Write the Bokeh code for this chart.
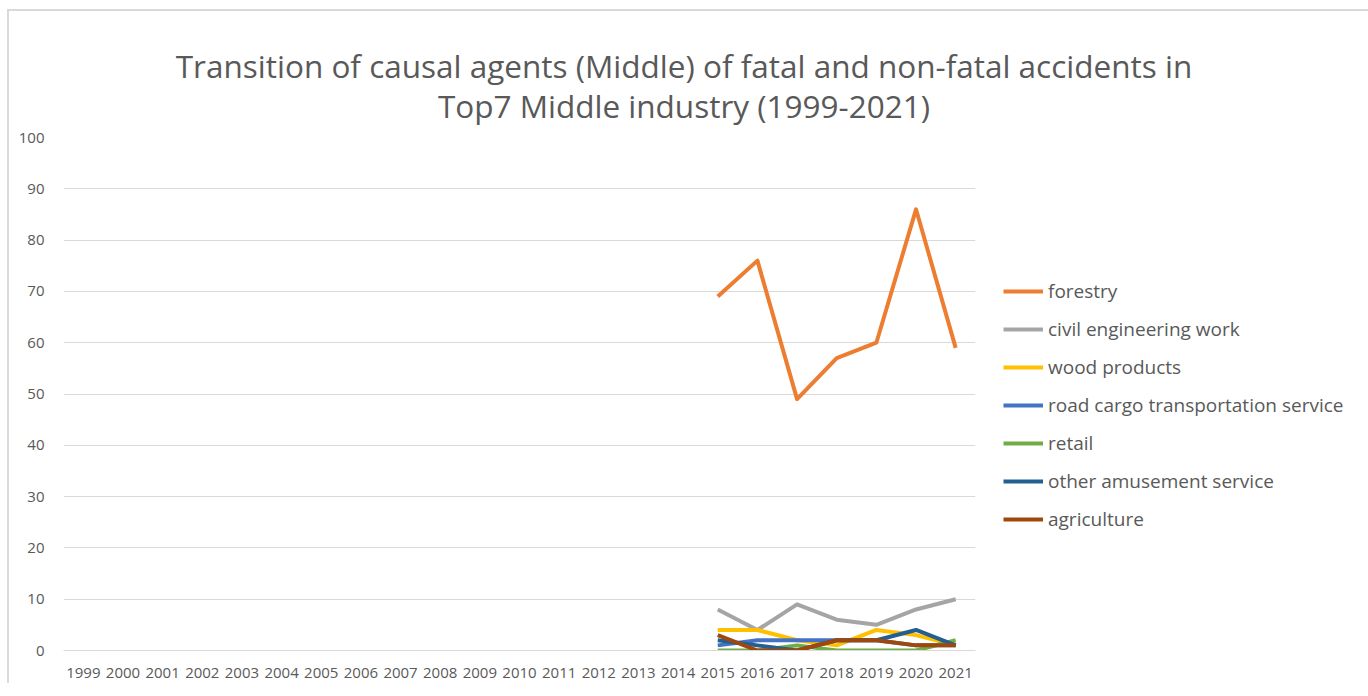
from bokeh.plotting import figure
from bokeh.models import FactorRange, Range1d, Legend, LegendItem, Div, SingleIntervalTicker
from bokeh.layouts import column
from bokeh.embed import file_html
from bokeh.resources import INLINE

years = [str(y) for y in range(1999, 2022)]
data_years = ["2015", "2016", "2017", "2018", "2019", "2020", "2021"]

forestry = [69, 76, 49, 57, 60, 86, 59]
civil_engineering = [8, 4, 9, 6, 5, 8, 10]
wood_products = [4, 4, 2, 1, 4, 3, 1]
road_cargo = [1, 2, 2, 2, 2, 1, 1]
retail = [0, 0, 1, 0, 0, 0, 2]
other_amusement = [2, 1, 0, 2, 2, 4, 1]
agriculture = [3, 0, 0, 2, 2, 1, 1]

series_names = ["forestry", "civil engineering work", "wood products",
                "road cargo transportation service", "retail",
                "other amusement service", "agriculture"]
series_values = [forestry, civil_engineering, wood_products, road_cargo,
                 retail, other_amusement, agriculture]
colors = ["#ED7D31", "#A5A5A5", "#FFC000", "#4472C4", "#70AD47", "#255E91", "#9E480E"]

title_lines = ["Transition of causal agents (Middle) of fatal and non-fatal accidents in",
               "Top7 Middle industry (1999-2021)"]

FONT = "Open Sans"
TXT = "#595959"

title = Div(text="<br>".join(title_lines), width=1358, height=117,
            styles={"text-align": "center", "font-family": FONT, "font-size": "31.5px",
                    "line-height": "40px", "color": TXT, "padding-top": "41px",
                    "box-sizing": "border-box", "white-space": "nowrap"})

p = figure(frame_width=912, frame_height=513, x_range=FactorRange(*years, range_padding=0),
           y_range=Range1d(0, 100), output_backend="svg", toolbar_location=None,
           min_border_left=63, min_border_right=0, min_border_top=10,
           min_border_bottom=36)
p.border_fill_alpha = 0
p.outline_line_color = None
p.xgrid.grid_line_color = None
p.ygrid.grid_line_color = "#D9D9D9"
p.ygrid.grid_line_width = 1
p.yaxis.ticker = SingleIntervalTicker(interval=10)
for ax in (p.xaxis[0], p.yaxis[0]):
    ax.major_label_text_font = FONT
    ax.major_label_text_font_size = "15px"
    ax.major_label_text_color = TXT
    ax.major_tick_line_color = None
    ax.minor_tick_line_color = None
p.yaxis.axis_line_color = None
p.xaxis.axis_line_color = "#D9D9D9"
p.xaxis.major_label_standoff = 11
p.yaxis.major_label_standoff = 13

items = []
for name, vals, c in zip(series_names, series_values, colors):
    r = p.line(x=data_years, y=vals, line_color=c, line_width=4, line_join="round")
    items.append(LegendItem(label=name, renderers=[r]))

legend = Legend(items=items, location=(28, 118), glyph_width=40, glyph_height=20,
                label_text_font=FONT, label_text_font_size="19px", label_text_color=TXT,
                label_standoff=5, spacing=12, margin=0, padding=0,
                border_line_color=None, background_fill_alpha=0)
p.add_layout(legend, "right")

frame_shadow = ("inset 0 -3px 0 0 #FFFFFF, inset 7px 9px 0 0 #FFFFFF, "
                "inset -3px 0 0 0 #FFFFFF, inset 9px 11px 0 0 #D9D9D9, "
                "inset -5px 0 0 0 #D9D9D9")
layout = column(title, p, spacing=0, styles={"box-shadow": frame_shadow})
open("out.html", "w").write(file_html(layout, INLINE))
